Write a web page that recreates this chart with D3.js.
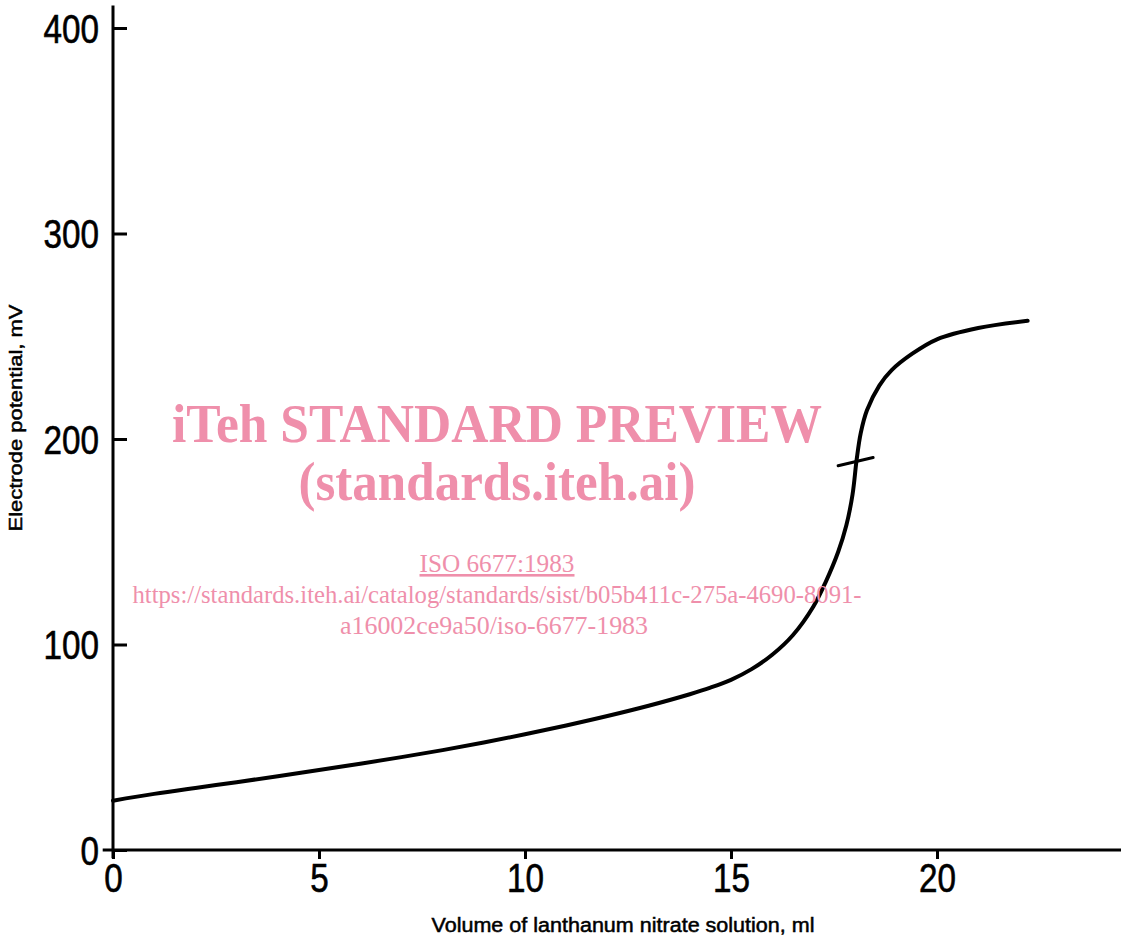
<!DOCTYPE html>
<html>
<head>
<meta charset="utf-8">
<script src="https://cdn.jsdelivr.net/npm/d3@7"></script>
<style>
  body { margin: 0; background: #fff; }
  svg { display: block; }
</style>
</head>
<body>
<div id="chart"></div>
<script>
    // titration curve
    var volume = [0, 1, 2, 3, 4, 5, 6, 7, 8, 9, 10, 11, 12, 13, 14, 14.5, 15, 15.5, 16, 16.5, 17, 17.3, 17.6, 17.8, 17.95, 18.05, 18.15, 18.3, 18.6, 18.9, 19.4, 20, 21, 22.2];
    var potential = [24, 27.3, 30.2, 33, 35.9, 38.9, 42, 45.2, 48.6, 52.3, 56.3, 60.6, 65.2, 70.2, 75.8, 79, 82.8, 88, 95, 104.5, 118.5, 130.5, 145, 158, 173, 190, 203, 214, 226, 233.5, 241.5, 248.5, 254, 257.5];

    // short stroke marking the end point
    var markVolume = [17.6, 18.45];
    var markPotential = [187, 191];

    var xTicks = [0, 5, 10, 15, 20];
    var yTicks = [0, 100, 200, 300, 400];
    var xExtent = [-0.25, 24.6];
    var yExtent = [-4, 411];

    var width = 1121, height = 945;

    var svg = d3.select("#chart")
      .append("svg")
      .attr("width", width)
      .attr("height", height);

    var x = d3.scaleLinear().domain([0, 20]).range([113, 937]);
    var y = d3.scaleLinear().domain([0, 400]).range([850, 28]);

    var tickFont = "'Liberation Sans', Arial, sans-serif";

    // squeeze the digits to look like the narrow lettering of the original
    function narrow(sel) {
      sel.attr("fill", "#000")
        .attr("stroke", "#000").attr("stroke-width", 0.6)
        .style("font-family", tickFont)
        .style("font-size", "40px")
        .attr("textLength", function () { return this.textContent.length * 18.5; })
        .attr("lengthAdjust", "spacingAndGlyphs");
    }

    // axis lines
    svg.append("line")
      .attr("x1", x(xExtent[0])).attr("x2", x(xExtent[1]))
      .attr("y1", y(0)).attr("y2", y(0))
      .attr("stroke", "#000").attr("stroke-width", 3);
    svg.append("line")
      .attr("x1", x(0)).attr("x2", x(0))
      .attr("y1", y(yExtent[0])).attr("y2", y(yExtent[1]))
      .attr("stroke", "#000").attr("stroke-width", 3);

    // X axis
    var xAxis = svg.append("g")
      .attr("transform", "translate(0," + y(0) + ")")
      .call(d3.axisBottom(x).tickValues(xTicks).tickSize(9).tickPadding(5));
    xAxis.select(".domain").remove();
    xAxis.selectAll("line").attr("stroke", "#000").attr("stroke-width", 3);
    xAxis.selectAll("text").call(narrow);

    // Y axis (ticks point inward)
    var yAxis = svg.append("g")
      .attr("transform", "translate(" + x(0) + ",0)")
      .call(d3.axisLeft(y).tickValues(yTicks).tickSize(-14).tickPadding(14));
    yAxis.select(".domain").remove();
    yAxis.selectAll("line").attr("stroke", "#000").attr("stroke-width", 3);
    yAxis.selectAll("text").attr("dy", "0.36em").call(narrow);

    // axis titles
    svg.append("text")
      .attr("x", 623)
      .attr("y", 932)
      .attr("text-anchor", "middle")
      .attr("stroke", "#000").attr("stroke-width", 0.5)
      .style("font-family", "'Liberation Sans', Arial, sans-serif")
      .style("font-size", "20px")
      .attr("textLength", 383).attr("lengthAdjust", "spacingAndGlyphs")
      .text("Volume of lanthanum nitrate solution, ml");

    svg.append("text")
      .attr("transform", "translate(22,418)rotate(-90)")
      .attr("text-anchor", "middle")
      .attr("stroke", "#000").attr("stroke-width", 0.5)
      .style("font-family", "'Liberation Sans', Arial, sans-serif")
      .style("font-size", "19px")
      .attr("textLength", 227).attr("lengthAdjust", "spacingAndGlyphs")
      .text("Electrode potential, mV");

    // curve
    var points = volume.map(function (v, i) { return [v, potential[i]]; });
    var line = d3.line()
      .x(function (d) { return x(d[0]); })
      .y(function (d) { return y(d[1]); })
      .curve(d3.curveCatmullRom.alpha(0.5));

    svg.append("path")
      .datum(points)
      .attr("d", line)
      .attr("fill", "none")
      .attr("stroke", "#000")
      .attr("stroke-width", 4)
      .attr("stroke-linecap", "round");

    svg.append("path")
      .datum(markVolume.map(function (v, i) { return [v, markPotential[i]]; }))
      .attr("d", d3.line().x(function (d) { return x(d[0]); }).y(function (d) { return y(d[1]); }))
      .attr("fill", "none")
      .attr("stroke", "#000")
      .attr("stroke-width", 3)
      .attr("stroke-linecap", "round");

    // watermark
    var pink = "#ef8fab";
    var serif = "'Liberation Serif', 'Times New Roman', serif";
    var wm = svg.append("g").attr("fill", pink).style("font-family", serif).attr("text-anchor", "middle");

    wm.append("text").attr("x", 497).attr("y", 442)
      .style("font-size", "55px").style("font-weight", "bold")
      .attr("textLength", 650).attr("lengthAdjust", "spacingAndGlyphs")
      .text("iTeh STANDARD PREVIEW");
    wm.append("text").attr("x", 497).attr("y", 500)
      .style("font-size", "55px").style("font-weight", "bold")
      .attr("textLength", 397).attr("lengthAdjust", "spacingAndGlyphs")
      .text("(standards.iteh.ai)");
    wm.append("text").attr("x", 497).attr("y", 572)
      .style("font-size", "26px").style("text-decoration", "underline")
      .attr("textLength", 155).attr("lengthAdjust", "spacingAndGlyphs")
      .text("ISO 6677:1983");
    wm.append("text").attr("x", 497).attr("y", 603)
      .style("font-size", "26px")
      .attr("textLength", 729).attr("lengthAdjust", "spacingAndGlyphs")
      .text("https://standards.iteh.ai/catalog/standards/sist/b05b411c-275a-4690-8091-");
    wm.append("text").attr("x", 494).attr("y", 634)
      .style("font-size", "26px")
      .attr("textLength", 308).attr("lengthAdjust", "spacingAndGlyphs")
      .text("a16002ce9a50/iso-6677-1983");

  </script>
</body>
</html>
